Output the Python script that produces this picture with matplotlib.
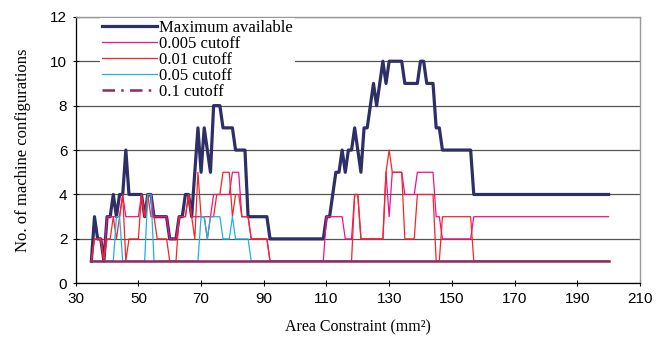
import numpy as np
import matplotlib.pyplot as plt
from matplotlib.lines import Line2D

# x axis: area constraint 35..200 in steps of 1
area = list(range(35, 201))

# Maximum available
max_avail = ([1, 3, 2, 2, 1, 3, 3, 4, 3, 4, 4, 6, 4, 4, 4, 4, 4, 3, 4, 4,      # 35-54
              3, 3, 3, 3, 3, 2, 2, 2, 3, 3, 4, 4, 3, 5, 7, 5, 7, 6, 5, 8,      # 55-74
              8, 8, 7, 7, 7, 7, 6, 6, 6, 6, 3, 3, 3, 3, 3, 3, 3]               # 75-91
             + [2] * 18                                                       # 92-109
             + [3, 3, 4, 5, 5, 6, 5, 6, 6, 7, 6, 5, 7, 7, 8, 9, 8, 9, 10, 9,  # 110-129
                10, 10, 10, 10, 10, 9, 9, 9, 9, 9, 10, 10, 9, 9, 9, 7, 7,     # 130-146
                6, 6, 6, 6, 6, 6, 6, 6, 6, 6]                                 # 147-156
             + [4] * 44)                                                      # 157-200

cut_0005 = ([1, 2, 2, 2, 1, 3, 3, 3, 3, 3, 4, 3, 3, 3, 3, 3, 4, 3, 4, 4,      # 35-54
             3, 3, 3, 3, 3, 2, 2, 2, 3, 3, 3, 4, 3, 3, 3, 3, 3, 3, 3, 4,      # 55-74
             4, 4, 4, 4, 4, 5, 5, 5, 3, 3, 3, 2, 2, 2, 2, 2, 2]               # 75-91
            + [1] * 18                                                        # 92-109
            + [3, 3, 3, 3, 3, 3, 2, 2, 2, 4, 4, 2, 2, 2, 2, 2, 2, 2, 2, 5,    # 110-129
               3, 5, 5, 5, 5, 4, 4, 4, 4, 5, 5, 5, 5, 5, 5, 3, 3,             # 130-146
               2, 2, 2, 2, 2, 2, 2, 2, 2, 2]                                  # 147-156
            + [3] * 44)                                                       # 157-200

cut_001 = ([1, 2, 2, 2, 1, 2, 2, 3, 2, 3, 4, 1, 2, 2, 2, 2, 4, 3, 4, 3,       # 35-54
            3, 2, 2, 2, 2, 1, 1, 1, 3, 3, 3, 4, 3, 2, 5, 3, 3, 2, 3, 3,       # 55-74
            4, 4, 5, 5, 5, 3, 4, 4, 3, 3, 3, 2, 2, 2, 2, 2, 2]                # 75-91
           + [1] * 27                                                         # 92-118
           + [4, 4, 2, 2, 2, 2, 2, 2, 2, 2, 5, 6, 5, 5, 5, 5, 2, 2, 2, 2,     # 119-138
              4, 4, 4, 4, 4, 4, 1, 1, 3, 3, 3, 3, 3, 3, 3, 3, 3, 3]           # 139-156
           + [1] * 44)                                                        # 157-200

cut_005 = ([1] * 8 + [3, 3] + [1] * 8 + [4, 4]                                # 35-54
           + [1] * 15                                                         # 55-69
           + [3, 3, 2, 3, 3, 3, 3, 2, 2, 2, 3, 2, 2, 2, 2, 2]                 # 70-85
           + [1] * 115)                                                       # 86-200

cut_01 = [1] * len(area)

series = [
    ('Maximum available', max_avail, '#2E2F66', 2.3),
    ('0.005 cutoff', cut_0005, '#F0118C', 0.9),
    ('0.01 cutoff', cut_001, '#F52525', 0.9),
    ('0.05 cutoff', cut_005, '#1BB2E6', 0.9),
]

plt.rcParams['font.family'] = ['Liberation Serif', 'DejaVu Serif']

fig = plt.figure(figsize=(6.57, 3.43), dpi=100)
ax = fig.add_axes([0.1152, 0.174, 0.8588, 0.777])

handles = []
for i, (name, vals, col, lw) in enumerate(series):
    ax.plot(area, vals, color=col, linewidth=lw, zorder=3 + i)
    handles.append(Line2D([], [], color=col, linewidth=lw))

# 0.1 cutoff looks solid in the plot, dash-dot only in the legend
ax.plot(area, cut_01, color='#94285E', linewidth=1.8, zorder=8)
handles.append(Line2D([], [], color='#94285E', linewidth=1.8,
                      linestyle=(0, (5, 2.5, 1, 2.5))))

ax.set_xlim(30, 210)
ax.set_ylim(0, 12)
ax.set_xticks(np.arange(30, 211, 20))
ax.set_yticks(np.arange(0, 13, 2))
for lab in ax.get_xticklabels() + ax.get_yticklabels():
    lab.set_family(['Liberation Sans', 'DejaVu Sans'])
    lab.set_fontsize(11)
ax.tick_params(direction='inout', length=5, width=0.8, color='black')

ax.grid(axis='y', color='#555555', linewidth=0.9, zorder=0)
ax.set_axisbelow(True)
for s in ['top', 'right']:
    ax.spines[s].set_color('#999999')
    ax.spines[s].set_linewidth(1.0)
for s in ['left', 'bottom']:
    ax.spines[s].set_color('black')
    ax.spines[s].set_linewidth(0.9)

ax.set_xlabel('Area Constraint (mm²)', fontsize=11.5, labelpad=10)
ax.set_ylabel('No. of machine configurations', fontsize=12, labelpad=14)

leg = ax.legend(handles, ['Maximum available', '0.005 cutoff', '0.01 cutoff',
                          '0.05 cutoff', '0.1 cutoff'],
                loc='upper left', bbox_to_anchor=(0.04, 1.0), frameon=True,
                fontsize=12, handlelength=3.3, handletextpad=0.15,
                labelspacing=0.0, borderpad=0.1, borderaxespad=0.1)
leg.get_frame().set_edgecolor('none')
leg.get_frame().set_facecolor('white')
leg.get_frame().set_alpha(1.0)
leg.get_frame().set_boxstyle('square', pad=0.0)
# legend hides the grid but sits under the data lines
leg.set_zorder(2.5)

fig.savefig('out.png', dpi=100)
